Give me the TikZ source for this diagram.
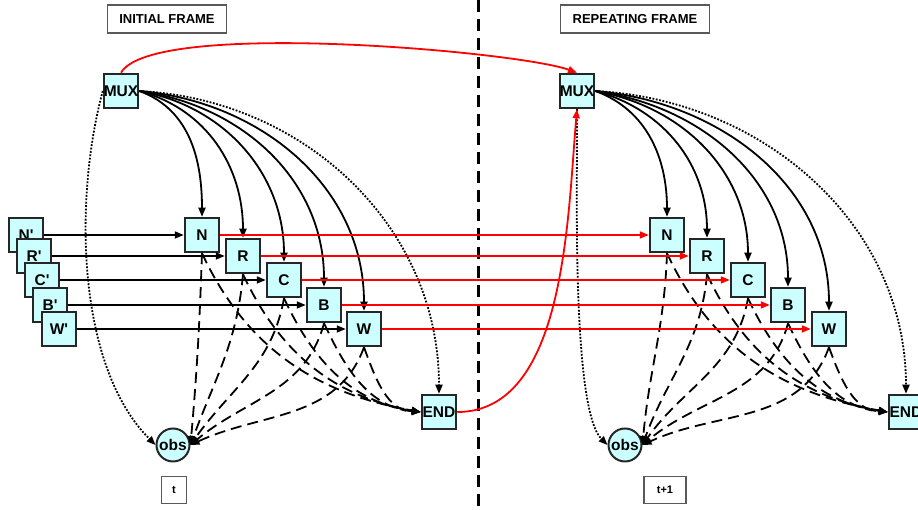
\documentclass[tikz,border=0pt]{standalone}
\usepackage{fontspec}
\setsansfont{Liberation Sans}
\usepackage{tikz}
\usetikzlibrary{arrows.meta}
\definecolor{boxfill}{HTML}{CCFFFF}

\begin{document}
\begin{tikzpicture}[x=1pt, y=1pt, font=\sffamily\bfseries,
    main/.style = {draw=black!85, line width=2pt, fill=boxfill, minimum size=34.5pt, inner sep=0pt, font=\sffamily\bfseries\fontsize{15.5}{17}\selectfont},
    obsnode/.style = {main, circle, minimum size=33pt},
    frametag/.style = {draw=black!65, line width=1.2pt, inner xsep=12pt, minimum height=28pt, font=\sffamily\bfseries\fontsize{13}{15}\selectfont},
    timetag/.style = {draw=black!65, line width=1.2pt, inner sep=0pt, minimum height=27pt, font=\sffamily\bfseries\fontsize{11}{13}\selectfont},
    ar/.style = {-{Triangle[length=9pt,width=7pt]}, line width=1.8pt},
    dotlink/.style = {ar, dash pattern=on 1.8pt off 1.6pt},
    dashlink/.style = {ar, dash pattern=on 11pt off 6pt}]

        \useasboundingbox (0,0) rectangle (918,510);

        \node[frametag] (head1) at (167,491) {INITIAL FRAME};
        \node[frametag] (head2) at (635,491) {REPEATING FRAME};

        % frame border
        \draw[line width=3pt, dash pattern=on 12pt off 7pt] (478,510) -- (478,0);

        % Initial frame
        \node[main] (mux1) at (121,419) {MUX};
        \node[main] (n1) at (202,275) {N};
        \node[main] (r1) at (243,254) {R};
        \node[main] (c1) at (284,230) {C};
        \node[main] (b1) at (324,205) {B};
        \node[main] (w1) at (364,181) {W};
        \node[main] (end1) at (439,98) {END};
        \node[obsnode] (obs1) at (173,65) {obs};
        \node[timetag, minimum width=25pt] (t1) at (174,20) {t};

        \node[main] (np) at (26,275) {N\textquotesingle};
        \node[main] (rp) at (34,254) {R\textquotesingle};
        \node[main] (cp) at (42,230) {C\textquotesingle};
        \node[main] (bp) at (50,205) {B\textquotesingle};
        \node[main] (wp) at (59,181) {W\textquotesingle};

        \draw[ar] (np) -- (n1); \draw[ar] (rp) -- (r1); \draw[ar] (cp) -- (c1);
        \draw[ar] (bp) -- (b1); \draw[ar] (wp) -- (w1);

        \draw[ar] (mux1.east) to[out=-20,in=90] (n1.north);
        \draw[ar] (mux1.east) to[out=-15,in=90] (r1.north);
        \draw[ar] (mux1.east) to[out=-10,in=90] (c1.north);
        \draw[ar] (mux1.east) to[out=-8,in=90] (b1.north);
        \draw[ar] (mux1.east) to[out=-5,in=90] (w1.north);
        \draw[dotlink] (mux1.east) to[out=-3,in=90] (end1.north);
        \draw[dotlink] (mux1.west) to[out=-105,in=135,looseness=0.8] (obs1.west);

        \draw[dashlink] (n1.south) to[out=-92,in=85] (obs1.east);
        \draw[dashlink] (r1.south) to[out=-95,in=70] (obs1.east);
        \draw[dashlink] (c1.south) to[out=-100,in=55] (obs1.east);
        \draw[dashlink] (b1.south) to[out=-105,in=40] (obs1.east);
        \draw[dashlink] (w1.south) to[out=-110,in=25] (obs1.east);
        \draw[dashlink] (n1.south) to[out=-65,in=170] (end1.west);
        \draw[dashlink] (r1.south) to[out=-65,in=170] (end1.west);
        \draw[dashlink] (c1.south) to[out=-65,in=172] (end1.west);
        \draw[dashlink] (b1.south) to[out=-65,in=175] (end1.west);
        \draw[dashlink] (w1.south) to[out=-70,in=178] (end1.west);

        % Repeating frame
        \node[main] (mux2) at (577,419) {MUX};
        \node[main] (n2) at (667,275) {N};
        \node[main] (r2) at (707,254) {R};
        \node[main] (c2) at (748,230) {C};
        \node[main] (b2) at (788,205) {B};
        \node[main] (w2) at (829,181) {W};
        \node[main] (end2) at (906,98) {END};
        \node[obsnode] (obs2) at (625,65) {obs};
        \node[timetag, minimum width=42pt] (t2) at (665,20) {t+1};

        \draw[ar] (mux2.east) to[out=-20,in=90] (n2.north);
        \draw[ar] (mux2.east) to[out=-15,in=90] (r2.north);
        \draw[ar] (mux2.east) to[out=-10,in=90] (c2.north);
        \draw[ar] (mux2.east) to[out=-8,in=90] (b2.north);
        \draw[ar] (mux2.east) to[out=-5,in=90] (w2.north);
        \draw[dotlink] (mux2.east) to[out=-3,in=90] (end2.north);
        \draw[dotlink] (mux2.south) to[out=-89,in=135,looseness=0.4] (obs2.west);

        \draw[dashlink] (n2.south) to[out=-92,in=85] (obs2.east);
        \draw[dashlink] (r2.south) to[out=-95,in=70] (obs2.east);
        \draw[dashlink] (c2.south) to[out=-100,in=55] (obs2.east);
        \draw[dashlink] (b2.south) to[out=-105,in=40] (obs2.east);
        \draw[dashlink] (w2.south) to[out=-110,in=25] (obs2.east);
        \draw[dashlink] (n2.south) to[out=-65,in=170] (end2.west);
        \draw[dashlink] (r2.south) to[out=-65,in=170] (end2.west);
        \draw[dashlink] (c2.south) to[out=-65,in=172] (end2.west);
        \draw[dashlink] (b2.south) to[out=-65,in=175] (end2.west);
        \draw[dashlink] (w2.south) to[out=-70,in=178] (end2.west);

        % links between frames
        \draw[ar, red] (n1) -- (n2); \draw[ar, red] (r1) -- (r2); \draw[ar, red] (c1) -- (c2);
        \draw[ar, red] (b1) -- (b2); \draw[ar, red] (w1) -- (w2);
        \draw[ar, red] (mux1.north) to[out=60,in=160,looseness=0.35] (mux2.north);
        \draw[ar, red] (end1.east) to[out=0,in=-95,looseness=0.85] (mux2.south);
    \end{tikzpicture}
\end{document}
